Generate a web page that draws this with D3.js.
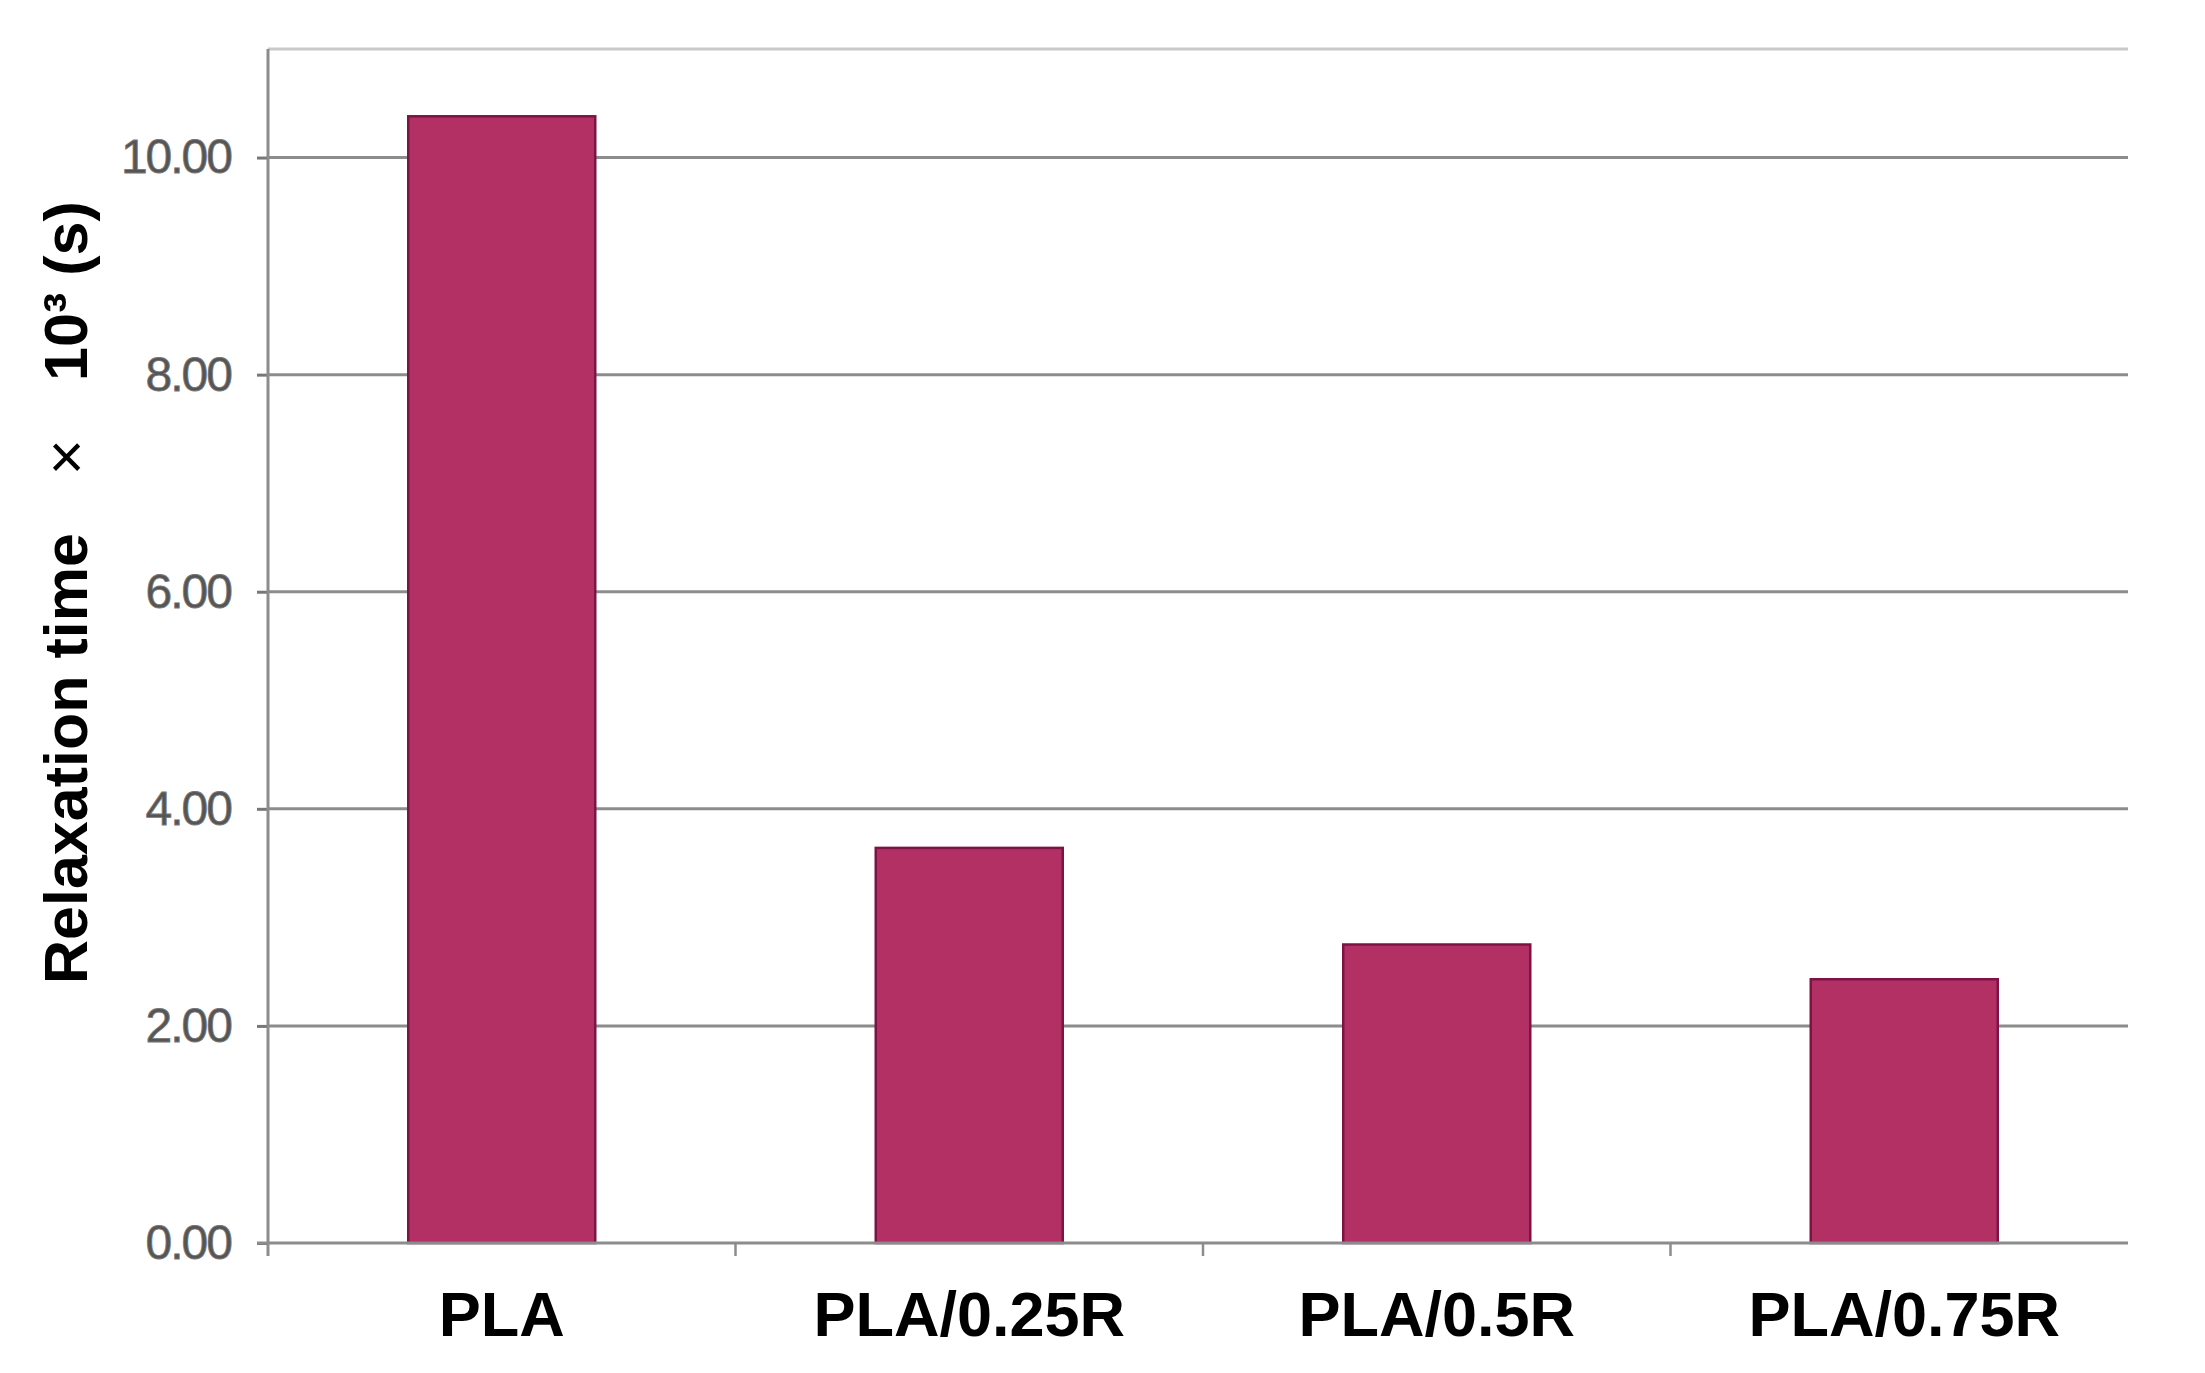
<!DOCTYPE html>
<html><head><meta charset="utf-8">
<script src="https://cdn.jsdelivr.net/npm/d3@7"></script>
<style>html,body{margin:0;padding:0;background:#fff;}</style>
</head><body>
<script>
const categories = ["PLA", "PLA/0.25R", "PLA/0.5R", "PLA/0.75R"];
const values = [10.38, 3.64, 2.75, 2.43];
const yTicks = [0, 2, 4, 6, 8, 10];

const W = 2205, H = 1373;
const m = {left: 268, right: 77, top: 49, bottom: 130};
const svg = d3.select("body").append("svg").attr("width", W).attr("height", H);

const bandEnd = m.left + 4 * 467.5;
const x = d3.scaleBand().domain(categories).range([m.left, bandEnd]).paddingInner(0.6).paddingOuter(0.3);
const xb = d3.scaleBand().domain(categories).range([m.left, bandEnd]);
const y = d3.scaleLinear().domain([0, 11]).range([H - m.bottom, m.top]);

// top border
svg.append("line").attr("x1", m.left).attr("x2", W - m.right).attr("y1", y(11)).attr("y2", y(11))
  .attr("stroke", "#c9c9c9").attr("stroke-width", 3);

// gridlines + y axis
const ya = svg.append("g").attr("transform", `translate(${m.left},0)`)
  .call(d3.axisLeft(y).tickValues(yTicks).tickFormat(d3.format(".2f")).tickSize(11).tickPadding(26));
ya.select(".domain").remove();
ya.selectAll(".tick line").attr("stroke", "#777").attr("stroke-width", 3);
ya.selectAll(".tick text").attr("font-family", "Liberation Sans, Arial, sans-serif").attr("font-size", 48)
  .attr("fill", "#555").attr("stroke", "#777").attr("stroke-width", 0.8).attr("letter-spacing", -2);
svg.append("g").selectAll("line").data(yTicks.filter(d => d > 0)).join("line")
  .attr("x1", m.left).attr("x2", W - m.right).attr("y1", d => y(d)).attr("y2", d => y(d))
  .attr("stroke", "#8c8c8c").attr("stroke-width", 3);

// bars
svg.append("g").selectAll("rect").data(values).join("rect")
  .attr("x", (d, i) => x(categories[i])).attr("width", x.bandwidth())
  .attr("y", d => y(d)).attr("height", d => y(0) - y(d))
  .attr("fill", "#b33064").attr("stroke", "#7d1244").attr("stroke-width", 2.5);

// x axis
const xa = svg.append("g").attr("transform", `translate(0,${y(0)})`)
  .call(d3.axisBottom(xb).tickSize(0).tickPadding(48));
xa.select(".domain").attr("stroke", "#8c8c8c").attr("stroke-width", 3).attr("d", `M${m.left - 11},0H${W - m.right}`);
xa.selectAll(".tick text").attr("font-family", "Liberation Sans, Arial, sans-serif").attr("font-size", 63)
  .attr("font-weight", "bold").attr("fill", "#000");
// category separator ticks
svg.append("g").selectAll("line").data(categories.slice(1)).join("line")
  .attr("x1", d => xb(d)).attr("x2", d => xb(d)).attr("y1", y(0)).attr("y2", y(0) + 13)
  .attr("stroke", "#8c8c8c").attr("stroke-width", 2.5);

// y axis line
svg.append("line").attr("x1", m.left).attr("x2", m.left).attr("y1", y(11)).attr("y2", y(0) + 13)
  .attr("stroke", "#8c8c8c").attr("stroke-width", 3);

// y title
const t = svg.append("text").attr("transform", `translate(87,984) rotate(-90)`)
  .attr("font-family", "Liberation Sans, Arial, sans-serif").attr("font-size", 61).attr("fill", "#000");
t.append("tspan").attr("font-weight", "bold").text("Relaxation time");
t.append("tspan").attr("dx", 58).attr("font-size", 62).text("×");
t.append("tspan").attr("dx", 58).attr("font-weight", "bold").text("10³ (s)");
</script>
</body></html>
